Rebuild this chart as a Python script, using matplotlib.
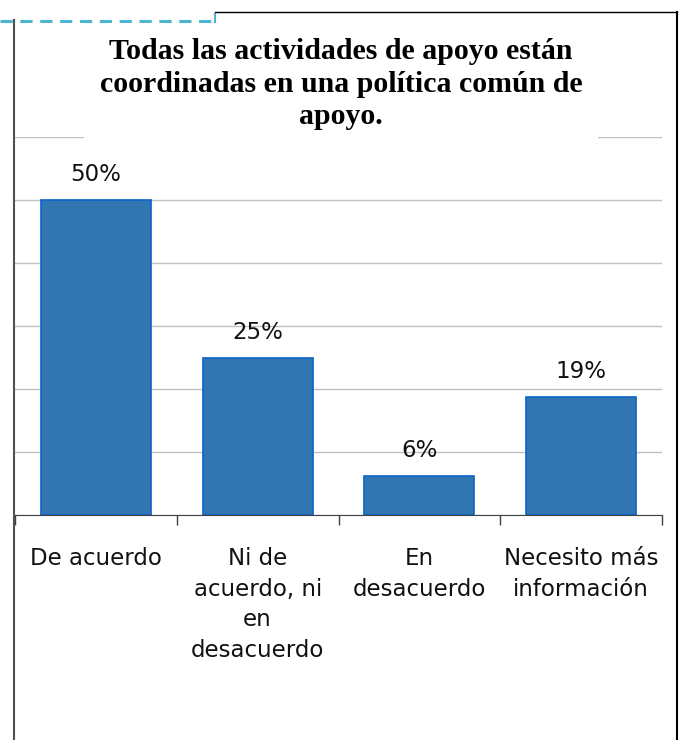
import matplotlib.pyplot as plt
from matplotlib.lines import Line2D

# data
categories = ['De acuerdo', 'Ni de\nacuerdo, ni\nen\ndesacuerdo', 'En\ndesacuerdo',
              'Necesito más\ninformación']
values = [50, 25, 6.25, 18.75]
title = 'Todas las actividades de apoyo están\ncoordinadas en una política común de\napoyo.'

W, H = 683, 740
fig = plt.figure(figsize=(W / 100, H / 100), dpi=100)
ax = fig.add_axes([15 / W, 1 - 515 / H, (662 - 15) / W, (515 - 137) / H])

x = range(len(values))
bars = ax.bar(x, values, width=0.68, color='#3276B1', edgecolor='#0A64C8',
              linewidth=1.2, zorder=3)
for b, v in zip(bars, values):
    ax.annotate(f'{v:.0f}%', (b.get_x() + b.get_width() / 2, v),
                xytext=(0, 10), textcoords='offset points',
                ha='center', va='bottom', fontsize=16.5, color='#111111')

ax.set_xlim(-0.5, len(values) - 0.5)
ax.set_ylim(0, 60)
ax.set_yticks(range(0, 61, 10))
ax.yaxis.grid(True, color='#c0c0c0', linewidth=1)
ax.tick_params(axis='y', length=0, labelleft=False)
ax.set_xticks([i - 0.5 for i in range(len(values) + 1)], minor=False)
ax.set_xticklabels([''] * (len(values) + 1))
ax.tick_params(axis='x', direction='out', length=7, width=1, color='#404040')
ax.set_xticks(list(x), minor=True)
ax.set_xticklabels(categories, minor=True, fontsize=16.5, linespacing=1.42,
                   color='#111111')
ax.tick_params(axis='x', which='minor', length=0, pad=23)
for s in ['top', 'right']:
    ax.spines[s].set_visible(False)
ax.spines['left'].set_visible(False)
ax.spines['bottom'].set_color('#404040')

fig.text(341 / W, 1 - 84 / H, title, ha='center', va='center',
         fontsize=21.5, fontweight='bold', family='Liberation Serif',
         linespacing=1.27, zorder=5,
         bbox=dict(facecolor='white', edgecolor='none', pad=11))


def fig_line(xs, ys, **kw):
    fig.add_artist(Line2D([a / W for a in xs], [1 - b / H for b in ys],
                          transform=fig.transFigure, zorder=6, **kw))


fig_line([0, 213], [20.5, 20.5], color='#4BB5D2', linewidth=2.2,
         linestyle=(0, (4, 2.5)))
fig_line([215, 215], [14, 22], color='#4BB5D2', linewidth=1.5)
fig_line([215, 677], [11.5, 11.5], color='black', linewidth=1)
fig_line([677, 677], [11.5, 740], color='black', linewidth=1.5)
fig_line([14, 14], [20, 740], color='#505050', linewidth=1.5)

fig.savefig('out.png', dpi=100)
